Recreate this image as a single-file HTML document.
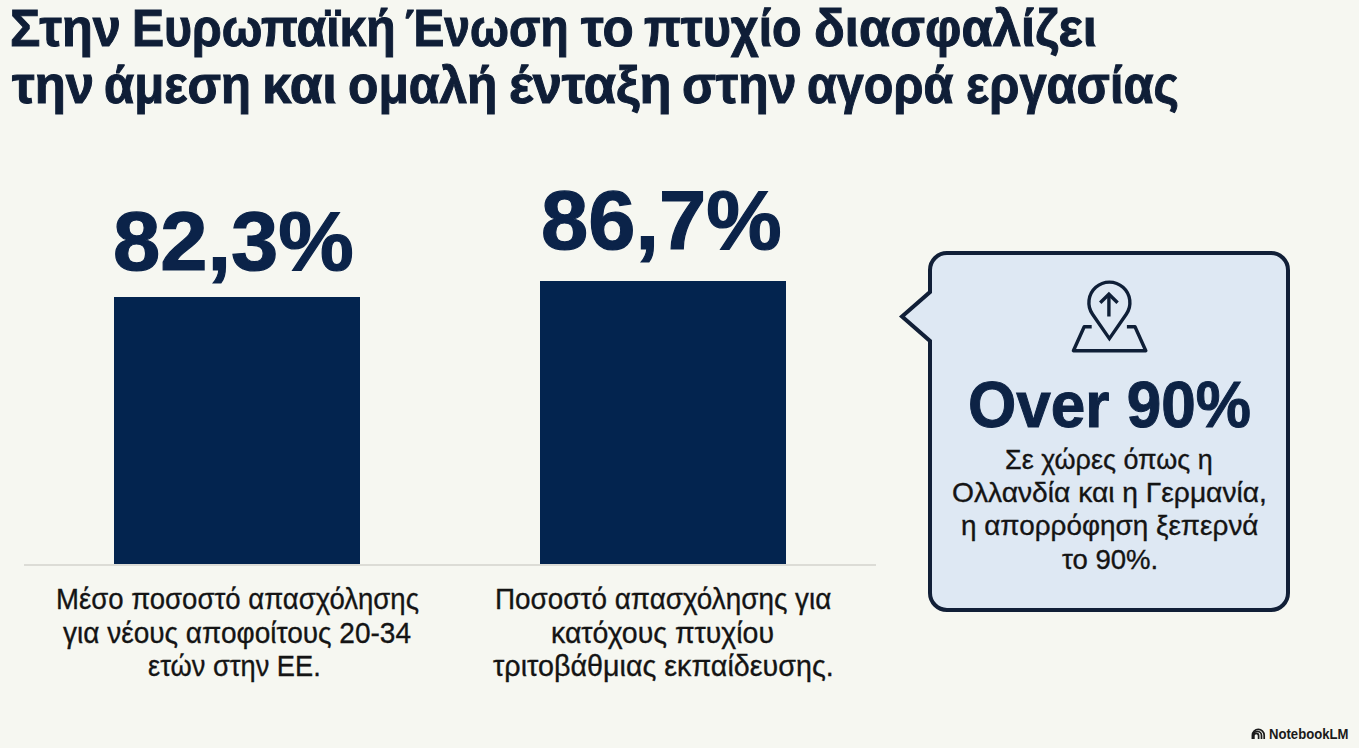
<!DOCTYPE html>
<html>
<head>
<meta charset="utf-8">
<style>
html,body{margin:0;padding:0;}
body{width:1359px;height:748px;overflow:hidden;background:#f6f7f1;position:relative;font-family:"Liberation Sans",sans-serif;}
.t{position:absolute;white-space:nowrap;transform-origin:0 0;}
.bar{position:absolute;background:#03244f;}
.base{position:absolute;left:24px;top:564px;width:852px;height:2px;background:#dcdcd6;}
svg{position:absolute;left:0;top:0;}
</style>
</head>
<body>
<div class="bar" style="left:114px;top:297px;width:246px;height:267px"></div>
<div class="bar" style="left:540px;top:281px;width:246px;height:283px"></div>
<div class="base"></div>
<svg width="1359" height="748" viewBox="0 0 1359 748">
  <path d="M947 253 H1271 A17 17 0 0 1 1288 270 V593 A17 17 0 0 1 1271 610 H947 A17 17 0 0 1 930 593 V341 L902 316.5 L930 292 V270 A17 17 0 0 1 947 253 Z" fill="#dee8f3" stroke="#111f37" stroke-width="4" stroke-linejoin="miter"/>
  <g fill="none" stroke="#0f1f37" stroke-width="3.4" stroke-linecap="butt" stroke-linejoin="miter">
    <path d="M1109.4 338.6 L1092.55 314.27 A20.5 20.5 0 1 1 1126.25 314.27 Z"/>
    <path d="M1108.9 294.5 V316.5"/>
    <path d="M1100.2 302.8 L1108.9 294.2 L1117.6 302.8"/>
    <path d="M1091.7 326.7 H1084.2 L1073.4 350.8 H1145.8 L1135 326.7 H1126.9" stroke-linejoin="round"/>
  </g>
  <g fill="none" stroke="#1c1c1c" stroke-width="1.7">
    <path d="M1252.4 739 V735.2 A5.9 5.9 0 0 1 1264.2 735.2 V739"/>
    <path d="M1253.3 739 V735.6 A4.1 4.1 0 0 1 1261.5 735.6 V739"/>
    <path d="M1253.8 739 V735.8 A2.4 2.4 0 0 1 1258.6 735.8 V739"/>
  </g>
</svg>
<div class="t" id="t1w0" style="left:10.02px;top:3.00px;font-size:51px;line-height:51px;font-weight:bold;color:#0f1e37;transform:scaleX(0.9898);-webkit-text-stroke:1.0px currentColor;">Στην</div>
<div class="t" id="t1w1" style="left:132.07px;top:3.00px;font-size:51px;line-height:51px;font-weight:bold;color:#0f1e37;transform:scaleX(0.9431);-webkit-text-stroke:1.0px currentColor;">Ευρωπαϊκή</div>
<div class="t" id="t1w2" style="left:404.80px;top:3.00px;font-size:51px;line-height:51px;font-weight:bold;color:#0f1e37;transform:scaleX(0.9045);-webkit-text-stroke:1.0px currentColor;">Ένωση</div>
<div class="t" id="t1w3" style="left:580.60px;top:3.00px;font-size:51px;line-height:51px;font-weight:bold;color:#0f1e37;transform:scaleX(1.0020);-webkit-text-stroke:1.0px currentColor;">το</div>
<div class="t" id="t1w4" style="left:644.35px;top:3.00px;font-size:51px;line-height:51px;font-weight:bold;color:#0f1e37;transform:scaleX(0.9488);-webkit-text-stroke:1.0px currentColor;">πτυχίο</div>
<div class="t" id="t1w5" style="left:814.11px;top:3.00px;font-size:51px;line-height:51px;font-weight:bold;color:#0f1e37;transform:scaleX(0.9975);-webkit-text-stroke:1.0px currentColor;">διασφαλίζει</div>
<div class="t" id="t2w0" style="left:11.50px;top:59.80px;font-size:51px;line-height:51px;font-weight:bold;color:#0f1e37;transform:scaleX(0.9975);-webkit-text-stroke:1.0px currentColor;">την</div>
<div class="t" id="t2w1" style="left:103.98px;top:59.80px;font-size:51px;line-height:51px;font-weight:bold;color:#0f1e37;transform:scaleX(0.9622);-webkit-text-stroke:1.0px currentColor;">άμεση</div>
<div class="t" id="t2w2" style="left:262.39px;top:59.80px;font-size:51px;line-height:51px;font-weight:bold;color:#0f1e37;transform:scaleX(1.0382);-webkit-text-stroke:1.0px currentColor;">και</div>
<div class="t" id="t2w3" style="left:347.75px;top:59.80px;font-size:51px;line-height:51px;font-weight:bold;color:#0f1e37;transform:scaleX(0.9757);-webkit-text-stroke:1.0px currentColor;">ομαλή</div>
<div class="t" id="t2w4" style="left:509.07px;top:59.80px;font-size:51px;line-height:51px;font-weight:bold;color:#0f1e37;transform:scaleX(1.0286);-webkit-text-stroke:1.0px currentColor;">ένταξη</div>
<div class="t" id="t2w5" style="left:682.15px;top:59.80px;font-size:51px;line-height:51px;font-weight:bold;color:#0f1e37;transform:scaleX(0.9770);-webkit-text-stroke:1.0px currentColor;">στην</div>
<div class="t" id="t2w6" style="left:806.60px;top:59.80px;font-size:51px;line-height:51px;font-weight:bold;color:#0f1e37;transform:scaleX(0.9513);-webkit-text-stroke:1.0px currentColor;">αγορά</div>
<div class="t" id="t2w7" style="left:966.14px;top:59.80px;font-size:51px;line-height:51px;font-weight:bold;color:#0f1e37;transform:scaleX(0.9573);-webkit-text-stroke:1.0px currentColor;">εργασίας</div>
<div class="t" id="n1" style="left:112.65px;top:199.70px;font-size:83px;line-height:83px;font-weight:bold;color:#0b2349;transform:scaleX(1.0237);-webkit-text-stroke:1.2px currentColor;">82,3%</div>
<div class="t" id="n2" style="left:541.36px;top:179.30px;font-size:83px;line-height:83px;font-weight:bold;color:#0b2349;transform:scaleX(1.0224);-webkit-text-stroke:1.2px currentColor;">86,7%</div>
<div class="t" id="l11" style="left:55.91px;top:584.20px;font-size:30px;line-height:30px;font-weight:normal;color:#141414;transform:scaleX(0.9180);-webkit-text-stroke:0.35px currentColor;">Μέσο ποσοστό απασχόλησης</div>
<div class="t" id="l12" style="left:63.30px;top:617.80px;font-size:30px;line-height:30px;font-weight:normal;color:#141414;transform:scaleX(0.9336);-webkit-text-stroke:0.35px currentColor;">για νέους αποφοίτους 20-34</div>
<div class="t" id="l13" style="left:148.19px;top:650.80px;font-size:30px;line-height:30px;font-weight:normal;color:#141414;transform:scaleX(0.9075);-webkit-text-stroke:0.35px currentColor;">ετών στην ΕΕ.</div>
<div class="t" id="l21" style="left:495.04px;top:584.20px;font-size:30px;line-height:30px;font-weight:normal;color:#141414;transform:scaleX(0.9287);-webkit-text-stroke:0.35px currentColor;">Ποσοστό απασχόλησης για</div>
<div class="t" id="l22" style="left:550.90px;top:617.80px;font-size:30px;line-height:30px;font-weight:normal;color:#141414;transform:scaleX(0.9491);-webkit-text-stroke:0.35px currentColor;">κατόχους πτυχίου</div>
<div class="t" id="l23" style="left:493.20px;top:650.80px;font-size:30px;line-height:30px;font-weight:normal;color:#141414;transform:scaleX(0.9565);-webkit-text-stroke:0.35px currentColor;">τριτοβάθμιας εκπαίδευσης.</div>
<div class="t" id="ov" style="left:968.06px;top:373.00px;font-size:64px;line-height:64px;font-weight:bold;color:#0d2345;transform:scaleX(0.9694);-webkit-text-stroke:1.0px currentColor;">Over 90%</div>
<div class="t" id="p1" style="left:1005.44px;top:446.40px;font-size:28px;line-height:28px;font-weight:normal;color:#141414;transform:scaleX(0.9620);-webkit-text-stroke:0.35px currentColor;">Σε χώρες όπως η</div>
<div class="t" id="p2" style="left:951.69px;top:478.80px;font-size:28px;line-height:28px;font-weight:normal;color:#141414;transform:scaleX(1.0065);-webkit-text-stroke:0.35px currentColor;">Ολλανδία και η Γερμανία,</div>
<div class="t" id="p3" style="left:960.50px;top:511.50px;font-size:28px;line-height:28px;font-weight:normal;color:#141414;transform:scaleX(0.9956);-webkit-text-stroke:0.35px currentColor;">η απορρόφηση ξεπερνά</div>
<div class="t" id="p4" style="left:1061.60px;top:546.10px;font-size:28px;line-height:28px;font-weight:normal;color:#141414;transform:scaleX(0.9833);-webkit-text-stroke:0.35px currentColor;">το 90%.</div>
<div class="t" id="nlm" style="left:1269.26px;top:726.60px;font-size:14px;line-height:14px;font-weight:bold;color:#1a1a1a;transform:scaleX(0.9373);-webkit-text-stroke:0px currentColor;">NotebookLM</div>
</body>
</html>
